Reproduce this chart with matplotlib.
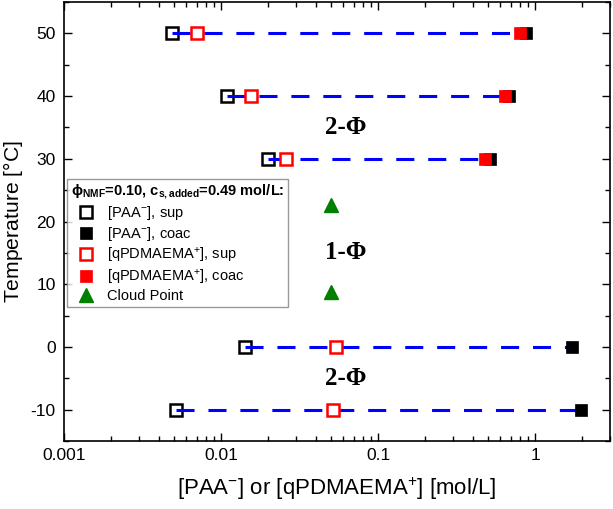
import matplotlib
matplotlib.use("Agg")
import matplotlib.pyplot as plt
from matplotlib.ticker import LogLocator, MultipleLocator, FixedFormatter, FixedLocator

plt.rcParams['font.family'] = ['Liberation Sans', 'DejaVu Sans']
plt.rcParams['mathtext.fontset'] = 'custom'
plt.rcParams['mathtext.rm'] = 'Liberation Sans'
plt.rcParams['mathtext.it'] = 'Liberation Sans:italic'
plt.rcParams['mathtext.bf'] = 'Liberation Sans:bold'
plt.rcParams['lines.scale_dashes'] = False
plt.rcParams['axes.unicode_minus'] = False

# Data
temps = [50, 40, 30, 0, -10]
paa_sup = [0.0049, 0.0109, 0.0199, 0.0142, 0.0052]
paa_coac = [0.87, 0.68, 0.52, 1.71, 1.97]
q_sup = [0.0070, 0.0156, 0.026, 0.054, 0.052]
q_coac_temps = [50, 40, 30]
q_coac = [0.80, 0.64, 0.48]
cloud_x = [0.05, 0.05]
cloud_t = [22.6, 8.7]

fig = plt.figure(figsize=(6.13, 5.09), dpi=100)
ax = fig.add_axes([64/613, 1-441/509, (610-64)/613, (441-2)/509])

# tie lines
for t, a, b in zip(temps, paa_sup, paa_coac):
    ax.plot([a, b], [t, t], color='#0000ff', lw=2.2, dashes=(13, 10), zorder=3)

ax.plot(paa_sup, temps, ls='none', marker='s', ms=9, mfc='none', mec='black', mew=1.8,
        zorder=2, label='[PAA$^{-}$], sup')
ax.plot(paa_coac, temps, ls='none', marker='s', ms=9, mfc='black', mec='black', mew=0.5,
        zorder=5, label='[PAA$^{-}$], coac')
ax.plot(q_sup, temps, ls='none', marker='s', ms=9, mfc='white', mec='#ff0000', mew=1.8,
        zorder=4, label='[qPDMAEMA$^{+}$], sup')
ax.plot(q_coac, q_coac_temps, ls='none', marker='s', ms=9, mfc='#ff0000', mec='#ff0000', mew=0.5,
        zorder=6, label='[qPDMAEMA$^{+}$], coac')
ax.plot(cloud_x, cloud_t, ls='none', marker='^', ms=10, mfc='#008000', mec='#008000',
        zorder=6, label='Cloud Point')

ax.set_xscale('log')
ax.set_xlim(0.001, 3)
ax.set_ylim(-15, 55)
ax.yaxis.set_major_locator(MultipleLocator(10))
ax.yaxis.set_minor_locator(MultipleLocator(5))
ax.xaxis.set_major_locator(FixedLocator([0.001, 0.01, 0.1, 1]))
ax.xaxis.set_major_formatter(FixedFormatter(['0.001', '0.01', '0.1', '1']))
ax.xaxis.set_minor_locator(LogLocator(base=10, subs=range(2, 10)))
ax.xaxis.set_minor_formatter(FixedFormatter([]))

ax.tick_params(which='both', direction='in', top=True, right=True, labelsize=12.5, width=1)
ax.tick_params(which='major', length=6)
ax.tick_params(which='minor', length=3.5)
ax.tick_params(axis='x', pad=5)
ax.tick_params(axis='y', pad=6)
for s in ax.spines.values():
    s.set_linewidth(1.2)

ax.set_xlabel('[PAA$^{-}$] or [qPDMAEMA$^{+}$] [mol/L]', fontsize=16, labelpad=9)
ax.set_ylabel('Temperature [$\\degree$C]', fontsize=15.2, labelpad=4)

for ty, txt in [(35, '2-Φ'), (15, '1-Φ'), (-5, '2-Φ')]:
    ax.text(0.062, ty, txt, ha='center', va='center', fontsize=18, fontweight='bold',
            family=['Liberation Serif', 'DejaVu Serif'], zorder=7)

leg = ax.legend(loc='upper left', bbox_to_anchor=(0.006, 0.597), borderaxespad=0,
                fontsize=10.5, frameon=True, fancybox=False, edgecolor='#808080',
                title='ϕ$_{\\mathbf{NMF}}$=0.10, c$_{\\mathbf{s,added}}$=0.49 mol/L:',
                title_fontproperties={'weight': 'bold', 'size': 10.5},
                handletextpad=0.4, labelspacing=0.2, borderpad=0.25, handlelength=2.1,
                alignment='left')
leg.get_frame().set_linewidth(1.0)

fig.savefig('out.png', dpi=100)
